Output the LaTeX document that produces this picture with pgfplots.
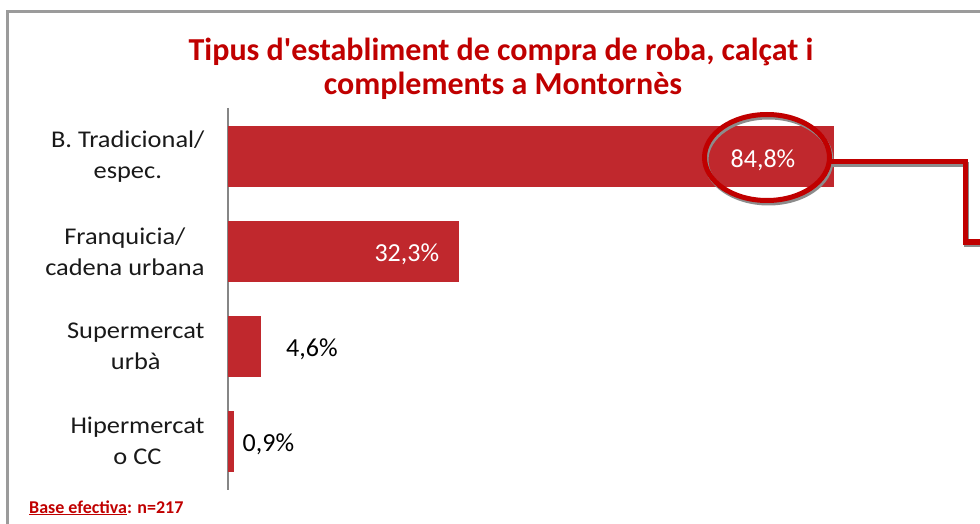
\documentclass[border=0pt]{standalone}
\usepackage{fontspec}
\setmainfont{Carlito}
\newfontfamily\labelfont[FakeStretch=1.1]{Carlito}
\usepackage{pgfplots}
\pgfplotsset{compat=1.18}
\definecolor{barred}{RGB}{192,40,45}
\definecolor{titlered}{RGB}{192,0,0}
\definecolor{framegray}{RGB}{155,155,155}
\definecolor{axisgray}{RGB}{134,134,134}
\begin{document}
\begin{tikzpicture}
\path[use as bounding box] (0pt,0pt) rectangle (980pt,523pt);
% outer frame
\draw[framegray, line width=3pt] (7.5pt,-10pt) -- (7.5pt,511.5pt) -- (990pt,511.5pt);
% title
\node[titlered, font=\fontsize{32}{37}\selectfont\bfseries, anchor=base] at (501pt,462pt) {Tipus d\textquotesingle establiment de compra de roba, calçat i};
\node[titlered, font=\fontsize{32}{37}\selectfont\bfseries, anchor=base] at (503pt,428pt) {complements a Montornès};
\begin{axis}[
    at={(228pt,33pt)}, anchor=south west,
    scale only axis, width=714.6pt, height=382pt,
    xbar, bar shift=0pt, bar width=0.644,
    xmin=0, xmax=100, ymin=-0.517, ymax=3.517, y dir=reverse,
    axis x line=none, axis y line*=left,
    y axis line style={axisgray, line width=1.5pt},
    ytick={0,1,2,3},
    yticklabels={{B. Tradicional/\\espec.},{Franquicia/\\cadena urbana},{Supermercat\\urbà},{Hipermercat\\o CC}},
    major tick length=0pt,
    yticklabel style={align=center, font=\labelfont\fontsize{24}{31}\selectfont, text=black!90, xshift=-20pt},
    nodes near coords={\pgfmathprintnumber[fixed, precision=1, fixed zerofill, use comma]{\pgfplotspointmeta}\%},
    /pgf/number format/assume math mode=true,
    every node near coord/.append style={font=\fontsize{26}{30}\selectfont, anchor=center, yshift=-3pt},
    clip=false,
]
\addplot[fill=barred, draw=none, every node near coord/.append style={white, xshift=-71pt}] coordinates {(84.8,0)};
\addplot[fill=barred, draw=none, every node near coord/.append style={white, xshift=-52pt}] coordinates {(32.3,1)};
\addplot[fill=barred, draw=none, every node near coord/.append style={black, xshift=51pt}] coordinates {(4.6,2)};
\addplot[fill=barred, draw=none, every node near coord/.append style={black, xshift=34pt}] coordinates {(0.9,3)};
\end{axis}
% highlight and connector
\draw[black!45, line width=5pt] (768.5pt,363pt) ellipse [x radius=62.5pt, y radius=43pt];
\draw[black!45, line width=5pt] (832pt,358.5pt) -- (966.5pt,358.5pt) -- (966.5pt,278.5pt) -- (990pt,278.5pt);
\draw[titlered, line width=5pt] (767pt,365.5pt) ellipse [x radius=62.5pt, y radius=43pt];
\draw[titlered, line width=5pt] (830pt,361pt) -- (965pt,361pt) -- (965pt,281pt) -- (990pt,281pt);
% base note
\node[titlered, font=\fontsize{18}{20}\selectfont\bfseries, anchor=base west, inner sep=0pt] at (29pt,10pt) {\underline{Base efectiva}: n=217};
\end{tikzpicture}
\end{document}
